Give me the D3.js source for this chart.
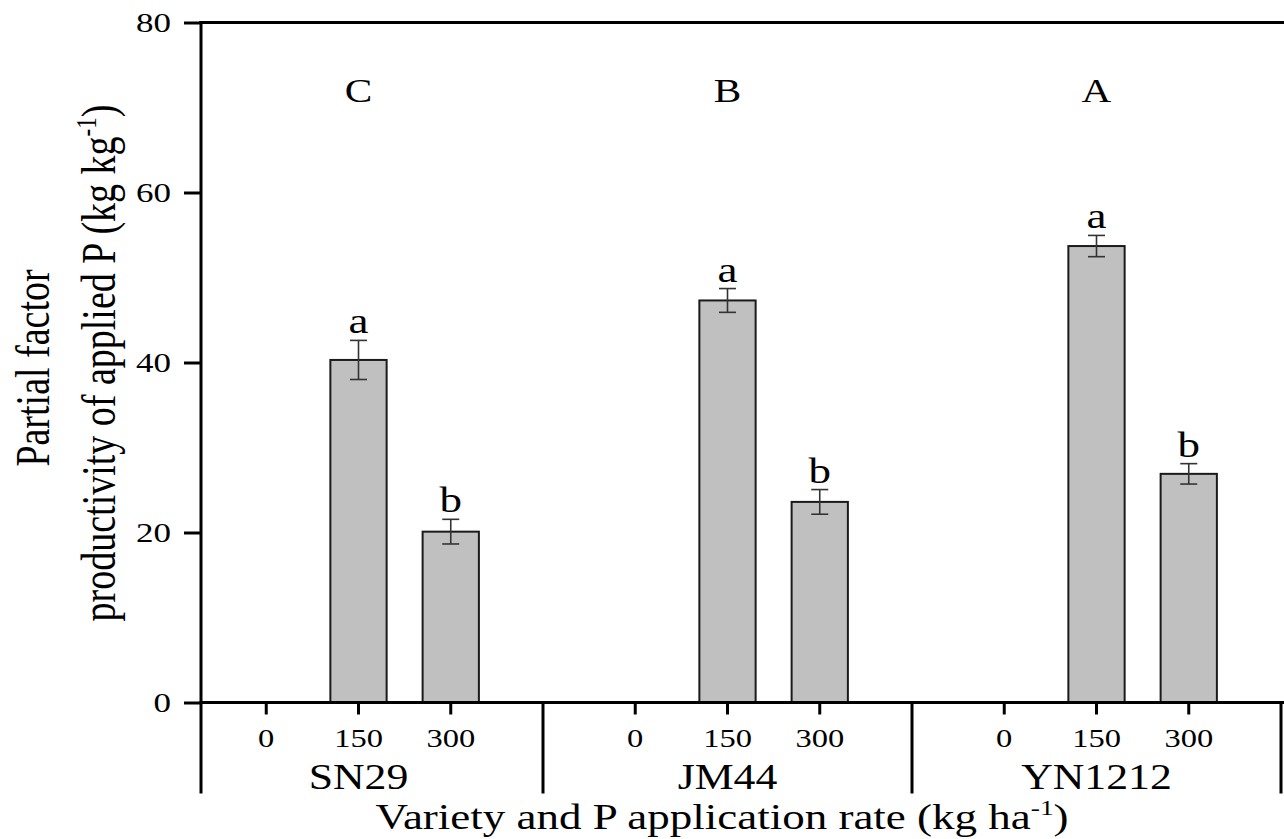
<!DOCTYPE html>
<html>
<head>
<meta charset="utf-8">
<script src="https://cdn.jsdelivr.net/npm/d3@7"></script>
<style>
  body { margin: 0; background: #fff; }
  text { font-family: "Liberation Serif", "Times New Roman", serif; fill: #000; }
</style>
</head>
<body>
<div id="chart"></div>
<script>
// Data
var varieties = ["SN29", "JM44", "YN1212"];
var rates = ["0", "150", "300"];
var varietyLetters = ["C", "B", "A"];
// mean PFP per variety, one value per rate (0 rate has no PFP)
var pfpSN29 = [null, 40.3, 20.1];
var pfpJM44 = [null, 47.3, 23.6];
var pfpYN1212 = [null, 53.7, 26.9];
var errSN29 = [null, 2.3, 1.45];
var errJM44 = [null, 1.4, 1.45];
var errYN1212 = [null, 1.25, 1.2];
var lettersSN29 = ["", "a", "b"];
var lettersJM44 = ["", "a", "b"];
var lettersYN1212 = ["", "a", "b"];
var yTicks = [0, 20, 40, 60, 80];

var pfp = [pfpSN29, pfpJM44, pfpYN1212];
var err = [errSN29, errJM44, errYN1212];
var letters = [lettersSN29, lettersJM44, lettersYN1212];

var width = 1284, height = 839;
var sx = 1.25; // figure is stretched horizontally

var svg = d3.select("#chart").append("svg")
  .attr("width", width)
  .attr("height", height);

// x: 4 slots per variety, ticks at slot 1,2,3 within each group
var x = d3.scaleLinear().domain([0, 12]).range([174, 1281]);
var y = d3.scaleLinear().domain([0, 80]).range([702.5, 22.5]);
var axisX = 201;
var barW = (x(1) - x(0)) * 0.61;

// flat table for drawing
var rows = [];
varieties.forEach(function(v, i) {
  rates.forEach(function(r, j) {
    rows.push({ variety: v, rate: r, pos: i * 4 + j + 1, value: pfp[i][j], err: err[i][j], letter: letters[i][j] });
  });
});
var bars = rows.filter(function(d) { return d.value != null; });

function stretched(sel, tx, ty, rot) {
  return sel.attr("transform", "translate(" + tx + "," + ty + ") scale(" + sx + ",1)" + (rot ? " rotate(" + rot + ")" : ""));
}

// bars
svg.append("g").selectAll("rect").data(bars).enter().append("rect")
  .attr("x", function(d) { return x(d.pos) - barW / 2; })
  .attr("y", function(d) { return y(d.value); })
  .attr("width", barW)
  .attr("height", function(d) { return y(0) - y(d.value); })
  .attr("fill", "#c0c0c0")
  .attr("stroke", "#1a1a1a")
  .attr("stroke-width", 2);

// error bars
var eb = svg.append("g").attr("stroke", "#333").attr("stroke-width", 1.6);
bars.forEach(function(d) {
  var cx = x(d.pos);
  eb.append("line").attr("x1", cx).attr("x2", cx).attr("y1", y(d.value + d.err)).attr("y2", y(d.value - d.err));
  eb.append("line").attr("x1", cx - 8.5).attr("x2", cx + 8.5).attr("y1", y(d.value + d.err)).attr("y2", y(d.value + d.err));
  eb.append("line").attr("x1", cx - 8.5).attr("x2", cx + 8.5).attr("y1", y(d.value - d.err)).attr("y2", y(d.value - d.err));
});

// significance letters
bars.forEach(function(d) {
  stretched(svg.append("text"), x(d.pos), y(d.value + d.err) - 7)
    .attr("text-anchor", "middle")
    .attr("font-size", 36)
    .text(d.letter);
});

// variety letters on top
varieties.forEach(function(v, i) {
  stretched(svg.append("text"), x(i * 4 + 2), 102)
    .attr("text-anchor", "middle")
    .attr("font-size", 33)
    .text(varietyLetters[i]);
});

// y axis
var yAxis = svg.append("g")
  .attr("transform", "translate(" + axisX + ",0)")
  .call(d3.axisLeft(y).tickValues(yTicks).tickSize(17).tickSizeOuter(0));
yAxis.select(".domain").remove();
yAxis.selectAll(".tick line").attr("stroke", "#000").attr("stroke-width", 3);
yAxis.selectAll(".tick text")
  .attr("x", null).attr("dy", null)
  .attr("font-size", 28)
  .attr("dominant-baseline", "central")
  .attr("transform", "translate(-30,0) scale(" + sx + ",1)");

// frame lines
var frame = svg.append("g").attr("stroke", "#000").attr("stroke-width", 3).attr("stroke-linecap", "square");
frame.append("line").attr("x1", axisX).attr("x2", width).attr("y1", y(80)).attr("y2", y(80));
frame.append("line").attr("x1", axisX).attr("x2", width).attr("y1", y(0)).attr("y2", y(0));
frame.append("line").attr("x1", axisX).attr("x2", axisX).attr("y1", y(80)).attr("y2", 792);
[4, 8, 12].forEach(function(p) {
  frame.append("line").attr("x1", x(p)).attr("x2", x(p)).attr("y1", y(0)).attr("y2", 792);
});

// x ticks and labels
rows.forEach(function(d) {
  svg.append("line")
    .attr("x1", x(d.pos)).attr("x2", x(d.pos))
    .attr("y1", y(0)).attr("y2", y(0) + 12)
    .attr("stroke", "#000").attr("stroke-width", 3);
  stretched(svg.append("text"), x(d.pos), 747)
    .attr("text-anchor", "middle")
    .attr("font-size", 26)
    .text(d.rate);
});

// variety names
varieties.forEach(function(v, i) {
  stretched(svg.append("text"), x(i * 4 + 2), 789)
    .attr("text-anchor", "middle")
    .attr("font-size", 35)
    .text(v);
});

// x title
var xt = stretched(svg.append("text"), 722, 829)
  .attr("text-anchor", "middle")
  .attr("font-size", 36);
xt.append("tspan").text("Variety and P application rate (kg ha");
xt.append("tspan").attr("font-size", 22).attr("dy", -14).text("-1");
xt.append("tspan").attr("dy", 14).text(")");

// y title, two lines
stretched(svg.append("text"), 49, 368, -90)
  .attr("text-anchor", "middle")
  .attr("font-size", 38)
  .text("Partial factor");
var yt = stretched(svg.append("text"), 115, 363, -90)
  .attr("text-anchor", "middle")
  .attr("font-size", 38);
yt.append("tspan").text("productivity of applied P (kg kg");
yt.append("tspan").attr("font-size", 23).attr("dy", -15).text("-1");
yt.append("tspan").attr("dy", 15).text(")");
</script>
</body>
</html>
